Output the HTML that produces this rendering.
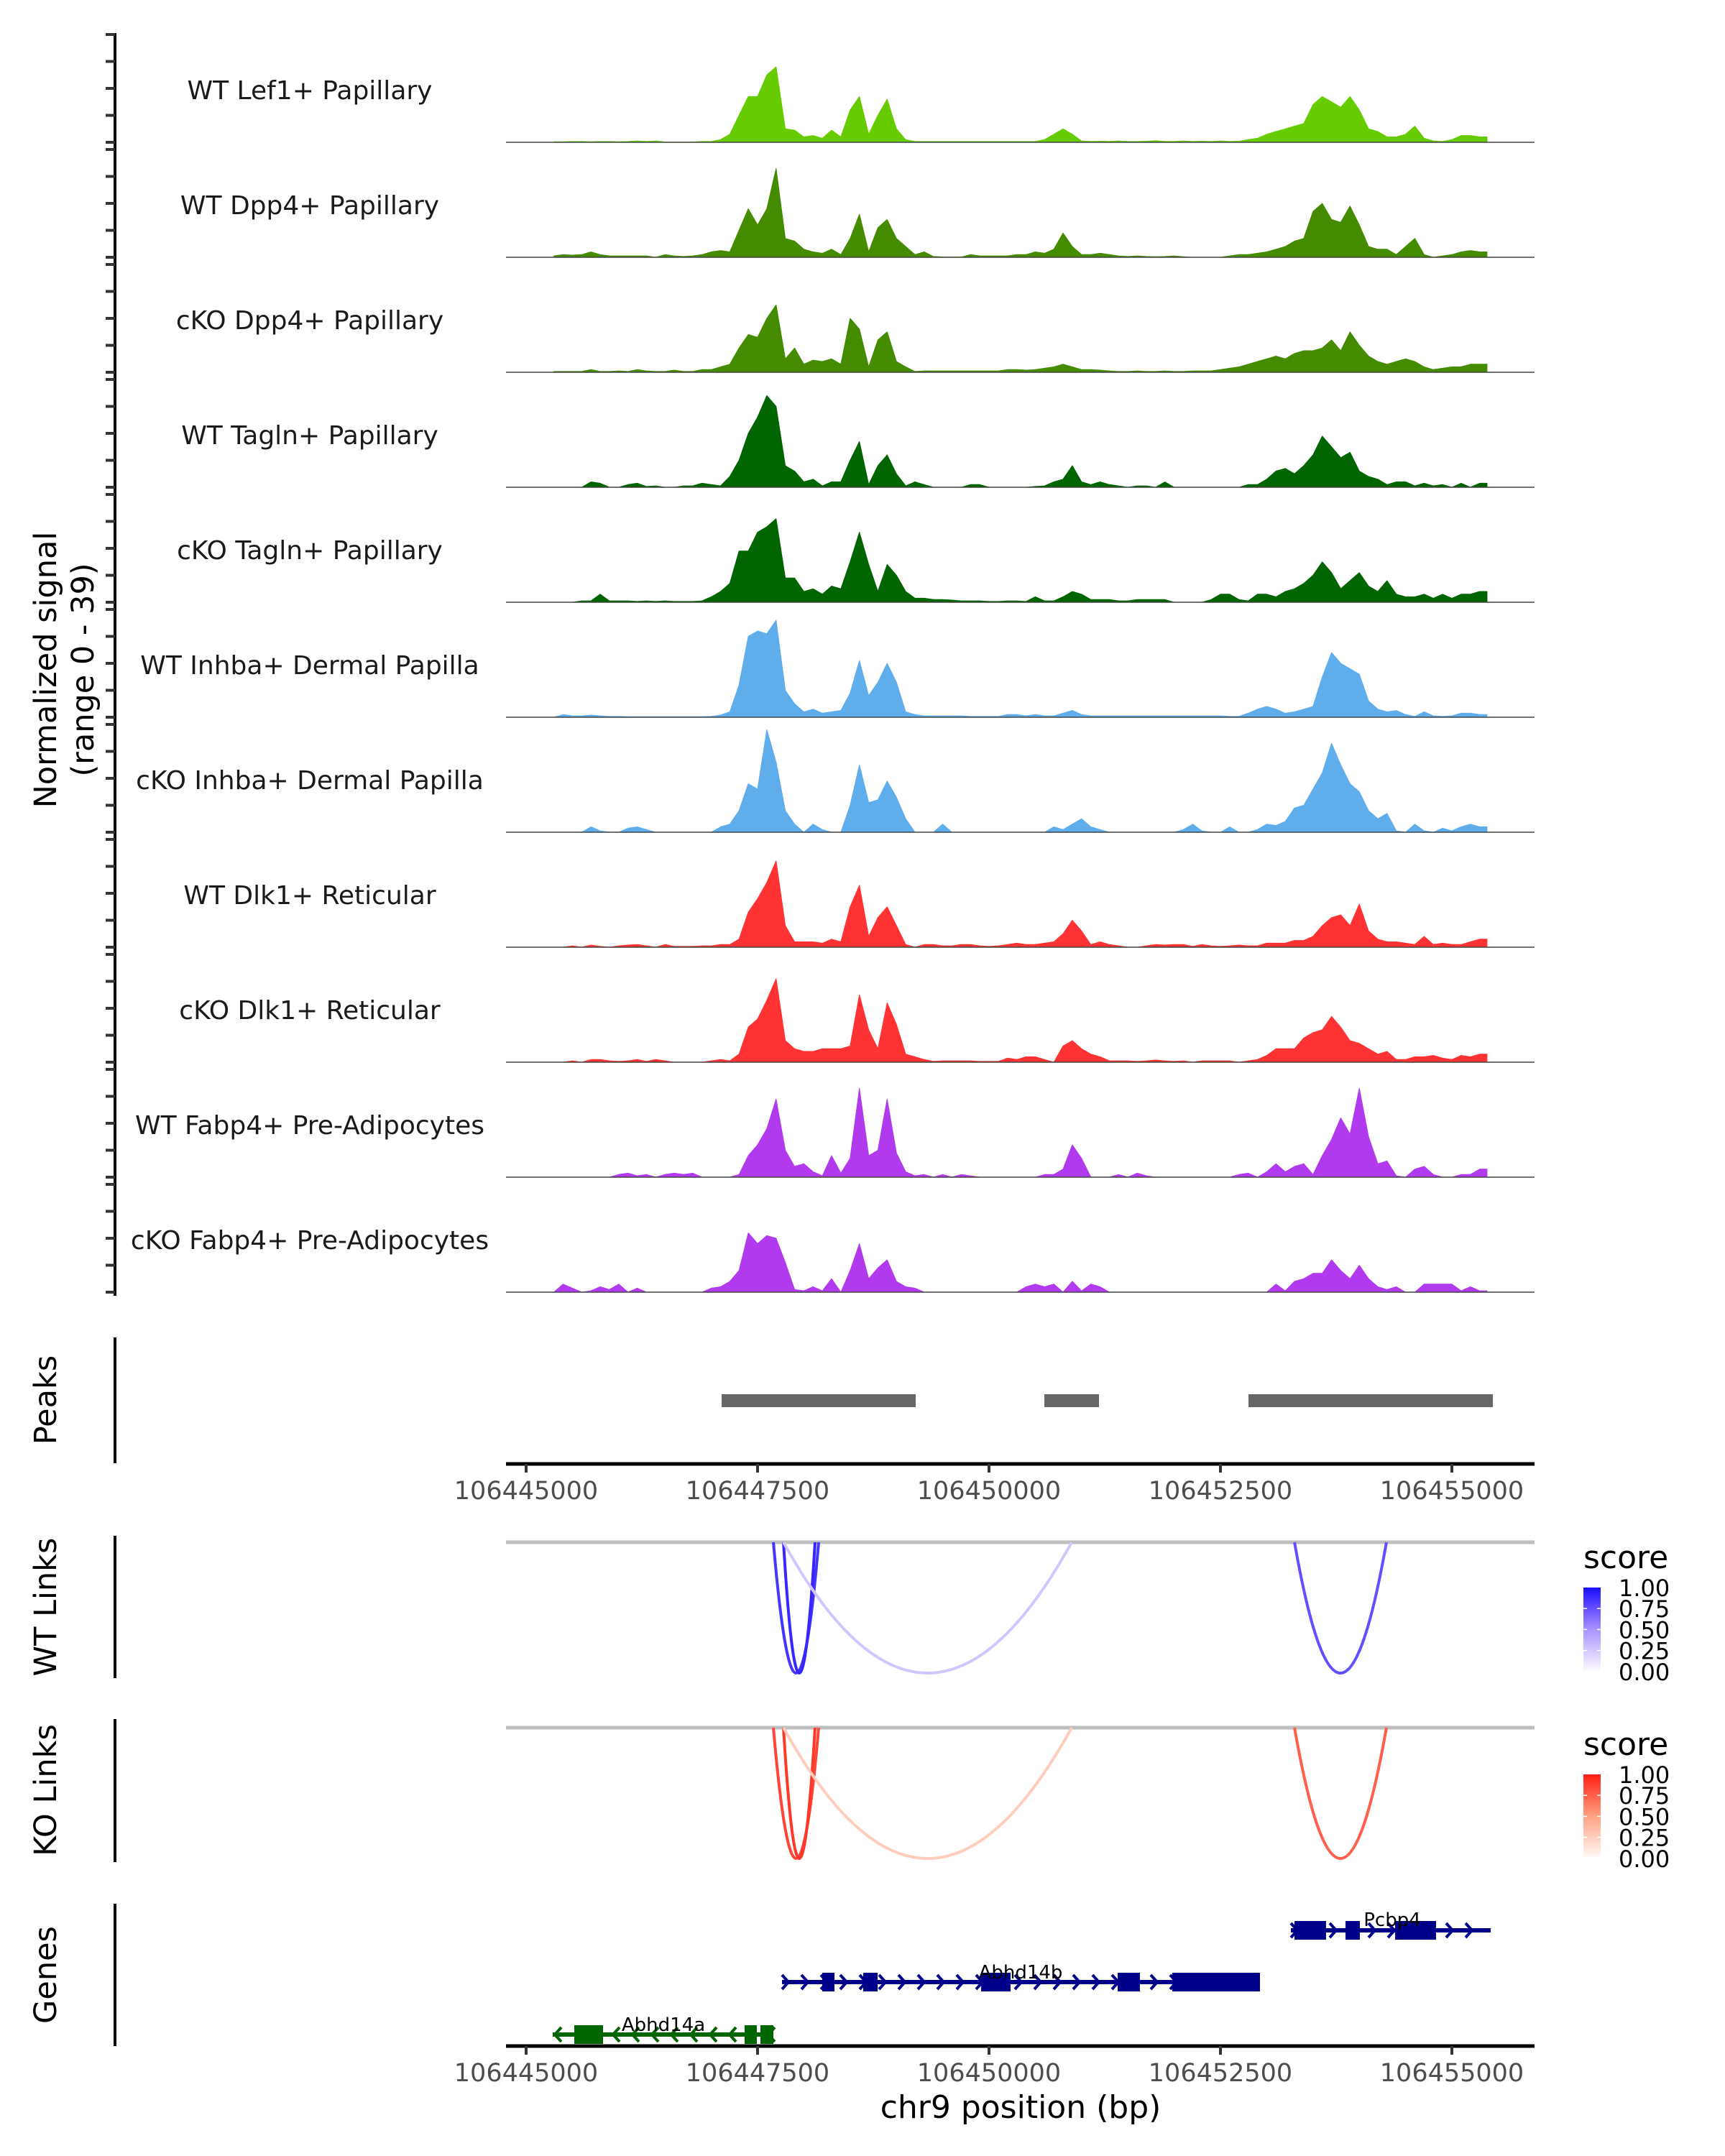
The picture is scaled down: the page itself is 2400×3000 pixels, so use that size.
<!DOCTYPE html>
<html><head><meta charset="utf-8">
<style>
html,body{margin:0;padding:0;background:#fff;}
svg{display:block;font-family:"DejaVu Sans","Liberation Sans",sans-serif;}
</style></head>
<body>
<svg id="chart" width="2400" height="3000" viewBox="0 0 2400 3000" xmlns="http://www.w3.org/2000/svg">
<rect width="2400" height="3000" fill="#fff"/>
</svg>
<script>
// ---------- data ----------
const trackNames = ["WT Lef1+ Papillary","WT Dpp4+ Papillary","cKO Dpp4+ Papillary","WT Tagln+ Papillary","cKO Tagln+ Papillary","WT Inhba+ Dermal Papilla","cKO Inhba+ Dermal Papilla","WT Dlk1+ Reticular","cKO Dlk1+ Reticular","WT Fabp4+ Pre-Adipocytes","cKO Fabp4+ Pre-Adipocytes"];
const trackColors = ["#66cc00","#448b00","#448b00","#006400","#006400","#60adec","#60adec","#ff3333","#ff3333","#b23aee","#b23aee"];
const binStart = 106445300;
const binSize = 100;
const sigLef1 = [0.2,0.2,0.3,0.3,0.2,0.3,0.3,0.2,0.3,0.5,0.3,0.5,0.1,0.1,0.1,0.1,0.3,0.3,1,3,10,17,17,25,28,5,4.5,2,2.5,1.5,4.5,2,12,17,3,10,16,5,1,0.3,0.3,0.3,0.3,0.3,0.3,0.3,0.3,0.3,0.3,0.3,0.3,0.3,0.3,1,3,5,3,0.5,0.3,0.4,0.3,0.5,0.3,0.3,0.4,0.6,0.3,0.3,0.5,0.3,0.4,0.3,0.5,0.3,0.4,1,1.5,3,4,5,6,7,14,17,15,13,17,12,5,4,2,2,3,6,1.5,0.5,0.3,1,2.5,2.5,2];
const sigDpp4WT = [0.5,1,0.8,1,2,1,0.5,0.5,0.5,0.5,0.5,0,1,0.5,0.3,0.5,1,2,2.5,2,10,18,12,18,33,7,6,3,2,1.5,3,1,7,16,2,11,14,7,4,1,2,0.3,0.1,0.1,0.1,1,0.5,0.5,0.5,0.5,1,1,2,1.5,3,9,4,1,1,1.5,1,0.5,0.3,0.5,0.3,0.2,0.3,0.5,0.2,0,0,0,0,0.5,1,1,1.5,2,3,4,6,7,17,20,14,13,19,12,4,3,3,1,4,7,1,0,0.5,1,2,2.5,2];
const sigDpp4KO = [0.3,0.3,0.3,0.3,1,0.3,0.3,0.5,0.3,1,0.5,0.3,0.3,0.8,0.3,0.3,1,1,2,3,9,14,13,20,25,5,9,3,4.5,4,5,3,20,16,2,12,15,4,2,0.3,0.5,0.5,0.5,0.5,0.5,0.5,0.5,0.5,0.5,1,1,0.8,1,1.5,2,3,2,1,1,0.8,0.5,0.3,0.3,0.5,0.3,0.3,0.5,0.3,0.3,0.5,0.5,0.5,1,1.5,2,3,4,5,6,5,7,8,8,9,12,8,15,10,6,4,3,4,5,4,2,1,1.5,2,2,3,3];
const sigTaglnWT = [0,0,0,0,2,1.5,0,0,1,1.5,0.3,0.5,0,0,0.5,0.5,1.5,1,0.5,4,10,20,26,34,30,8,6,2,3,0.5,2,2,10,17,1,8,12,5,0.5,2,1,0,0,0,0,1,1,0,0,0,0,0,0.3,0.5,2,3,8,2,1,2,1,0.5,0,0.5,0.5,0,2,0,0,0,0,0,0,0,0,1,1,3,6,7,5,8,12,19,15,11,13,6,4,3,1,2,2,0.5,1.5,0.5,1,0,1.5,0,1.5];
const sigTaglnKO = [0,0,0,0.5,0.5,3,0.5,0.5,0.5,0.3,0.5,0.3,0.5,0.3,0.3,0.3,0.5,2,4,7,19,19,26,28,31,9,9,4,5,3,6,5,15,26,14,4,14,10,4,1.5,1.5,1,1,0.8,0.5,0.5,0.5,0.3,0.3,0.5,0.5,0.3,2,0.5,0.5,2,4,3,1,1,1,0.5,0.5,1,1,1,1,0,0,0,0,1,3,3,1,0.5,3,3,2,4,5,7,10,15,11,5,8,11,6,4,8,3,2,2,3,1.5,3,1.5,3,3,4];
const sigInhbaWT = [0,1,0.5,0.5,0.8,0.5,0.3,0.3,0.2,0.2,0.2,0.2,0.2,0.2,0.2,0.2,0.2,0.3,0.8,2,12,30,32,31,36,10,5,2,3,1.5,2,2.5,9,21,8,13,20,13,2,1,0.5,0.5,0.5,0.5,0.5,0.3,0.3,0.3,0.3,1,1,0.5,1,0.5,0.5,1.5,2.5,1,0.5,0.5,0.5,0.5,0.5,0.5,0.5,0.5,0.5,0.5,0.5,0.5,0.5,0.5,0.5,0.3,0.3,1.5,3,4,3,1.5,2,3,4,15,24,20,18,16,6,3,2,2.5,1,0.3,2,0.5,0.3,0.5,1.5,1.5,1];
const sigInhbaKO = [0,0,0,0,2,0.5,0,0,1.5,2,1,0,0,0,0,0,0,0,2,3,8,18,16,38,26,8,3,0,3,1,0,0,10,25,11,12,19,13,5,0,0,0,3,0,0,0,0,0,0,0,0,0,0,0,2,1,3,5,2,1,0,0,0,0,0,0,0,0,1,3,0.5,0,0,2,0,0,1,3,2.5,4,9,10,16,22,33,25,18,15,8,5,7,0.5,0,3,0.5,0,1.5,0.5,2,3,2];
const sigDlk1WT = [0,0,0.5,0,0.8,0.3,0,0.5,0.8,1,0.5,0,1,0.3,0.3,0.3,0.5,0.5,1,1,3,13,18,24,32,8,2,2,2,1.5,3,2,15,23,4,11,15,8,1,0,1,1,0.5,0.5,1,1,0.5,0.3,0.5,1,1.5,1,1,1.5,2,5,10,6,1,2,1,0.5,0,0,0.5,1,0.8,1,1,0.3,1,0.5,0.3,0.5,0.8,0.5,0.5,1.5,1.5,1.5,2.5,2.5,4,8,11,12,8,16,6,3,2,2,1.5,1,4,1,1.5,1,1,2,3];
const sigDlk1KO = [0,0,0.5,0,1,1,0.5,0.3,0.5,1,0.3,1,0.5,0,0,0,0,0.5,1,0.5,3,13,16,23,31,8,5,4,4,5,5,5,6,25,12,5,22,14,3,2,1,0.3,0.5,0.5,0.5,0.5,0.3,0.3,0.3,1.5,1,2,2,1,0,6,8,5,3,2,0.5,0.5,0.5,0.3,0.5,0.8,0.5,0.3,0.5,0,0.5,0.5,0.5,0.5,0,0.5,1,2.5,5,5,5,9,11,12,17,13,8,7,5,3,4,1,1,2,2,2.5,1.5,1,2.5,2,3];
const sigFabp4WT = [0,0,0,0,0,0,0,1,1.5,0.5,1,0,1,1.5,1,1.5,0,0,0,0,1,8,12,18,29,10,4,5,2,0.5,8,1.5,7,33,8,10,29,9,2,0.5,1,0,1,0,1,0.5,0,0,0,0,0,0,0,1,1,3,12,7,0,0,0,1,0,1.5,0.5,0,0,0,0,0,0,0,0,0,1,1.5,0,2,5,2,4,5,1,8,14,22,16,33,15,5,6,0.5,0,3,4,1,0,0,1,1,3];
const sigFabp4KO = [0,3,1.5,0,0.5,2,1,3,0,1.5,0,0,0,0,0,0,0,1.5,2,4,8,22,18,21,20,11,1,0.5,2,0.5,5,0,8,18,5,9,12,4,2,1.5,0,0,0,0,0,0,0,0,0,0,0,2,3,2,3,0,4,0.5,3,2,0,0,0,0,0,0,0,0,0,0,0,0,0,0,0,0,0,0,3,0.5,4,5,7,7,12,8,5,10,5,2,1,2,0,0,3,3,3,3,0.5,2,0.5];
const signals = [sigLef1,sigDpp4WT,sigDpp4KO,sigTaglnWT,sigTaglnKO,sigInhbaWT,sigInhbaKO,sigDlk1WT,sigDlk1KO,sigFabp4WT,sigFabp4KO];

const xTicks = [106445000,106447500,106450000,106452500,106455000];
const peakStarts = [106447112,106450598,106452803];
const peakEnds   = [106449208,106451188,106455443];

const linkStarts = [106447671,106447780,106447780,106453300];
const linkEnds   = [106448160,106448121,106450893,106454293];
const wtScores   = [0.85,0.9,0.25,0.75];
const koScores   = [0.85,0.9,0.25,0.75];
const legendTicks = ["1.00","0.75","0.50","0.25","0.00"];

const geneNames  = ["Pcbp4","Abhd14b","Abhd14a"];
const geneStrand = [1,1,-1];
const geneStart  = [106453261,106447764,106445287];
const geneEnd    = [106455419,106452927,106447671];
const geneExonStarts = [[106453300,106453851,106454387],[106448199,106448641,106449915,106451390,106451980],[106445520,106447360,106447531]];
const geneExonEnds   = [[106453641,106454006,106454829],[106448331,106448797,106450233,106451630,106452927],[106445831,106447492,106447671]];
const geneColors = ["#00008b","#00008b","#006400"];

// ---------- helpers ----------
const NS="http://www.w3.org/2000/svg";
const svg=document.getElementById('chart');
function mk(tag,attrs,parent){const e=document.createElementNS(NS,tag);for(const k in attrs)e.setAttribute(k,attrs[k]);(parent||svg).appendChild(e);return e;}
const X0=704, X1=2135;
function xs(bp){return 732+(bp-106445000)*0.1288;}
const UNIT=3.75;
function baseY(k){return 198+160*k;}

// ---------- main y axis ----------
let g=mk('g',{});


mk('line',{x1:160,y1:46,x2:160,y2:1803,stroke:'#000','stroke-width':4},g);
for(let k=0;k<trackNames.length;k++){
  for(let j=0;j<=4;j++){
    const y=baseY(k)-37.5*j;
    const t=mk('line',{x1:147,y1:y,x2:160,y2:y,stroke:'#333','stroke-width':4},g);
    
    
  }
}
let yt=mk('text',{x:0,y:0,'font-size':43,'text-anchor':'middle',fill:'#000',transform:'translate(78,932) rotate(-90)'});


mk('tspan',{x:0,dy:0},yt).textContent='Normalized signal';
mk('tspan',{x:0,dy:52},yt).textContent='(range 0 - 39)';

// ---------- tracks ----------
for(let k=0;k<signals.length;k++){
  const b=baseY(k);
  const tg=mk('g',{});
  
  
  const vals=signals[k];
  let d='M'+xs(binStart).toFixed(1)+','+b;
  for(let i=0;i<vals.length;i++){
    const x=xs(binStart+binSize*i);
    d+=' L'+x.toFixed(1)+','+(b-vals[i]*UNIT).toFixed(1);
  }
  const xe=xs(binStart+binSize*(vals.length-1)+80);
  d+=' L'+xe.toFixed(1)+','+(b-vals[vals.length-1]*UNIT).toFixed(1)+' L'+xe.toFixed(1)+','+b+' Z';
  const area=mk('path',{d:d,fill:trackColors[k],stroke:trackColors[k],'stroke-width':1,'stroke-linejoin':'round'},tg);
  
  
  const bl=mk('line',{x1:X0,y1:b,x2:X1,y2:b,stroke:'#444','stroke-width':1.5},tg);
  
  
  const lab=mk('text',{x:431,y:b-73+13,'font-size':36,'text-anchor':'middle',fill:'#1a1a1a'},tg);
  lab.textContent=trackNames[k];
  
  
}

// ---------- side panel titles & axes ----------
const panels=[["Peaks",1861,2036,1948,"peaks"],["WT Links",2137,2335,2236,"wt-links"],["KO Links",2392,2591,2491,"ko-links"],["Genes",2649,2847,2748,"genes"]];
for(const p of panels){
  const l=mk('line',{x1:160,y1:p[1],x2:160,y2:p[2],stroke:'#000','stroke-width':4});
  
  
  const t=mk('text',{x:0,y:0,'font-size':43,'text-anchor':'middle',fill:'#000',transform:'translate(78,'+p[3]+') rotate(-90)'});
  t.textContent=p[0];
  
  
}

// ---------- peaks ----------
for(let i=0;i<peakStarts.length;i++){
  const r=mk('rect',{x:xs(peakStarts[i]),y:1940,width:xs(peakEnds[i])-xs(peakStarts[i]),height:18,fill:'#666'});
  
  
}

// ---------- x axes ----------
function xAxis(y,name){
  const ag=mk('g',{});
  
  
  mk('line',{x1:X0,y1:y,x2:X1,y2:y,stroke:'#000','stroke-width':5},ag);
  for(const t of xTicks){
    const x=xs(t);
    mk('line',{x1:x,y1:y,x2:x,y2:y+12,stroke:'#333','stroke-width':4},ag);
    const tx=mk('text',{x:x,y:y+49,'font-size':35,'text-anchor':'middle',fill:'#4d4d4d'},ag);
    tx.textContent=String(t);
    
    
  }
}
xAxis(2037,'peaks-x-axis');
xAxis(2847,'genes-x-axis');
const xt=mk('text',{x:1420,y:2947,'font-size':44,'text-anchor':'middle',fill:'#000'});
xt.textContent='chr9 position (bp)';



// ---------- links ----------
function lerp(a,b,t){return Math.round(a+(b-a)*t);}
function wtColor(s){const lo=[252,250,255],mid=[170,145,255],hi=[26,13,255];
  let c=s<0.5?lo.map((v,i)=>lerp(v,mid[i],s/0.5)):mid.map((v,i)=>lerp(v,hi[i],(s-0.5)/0.5));return 'rgb('+c.join(',')+')';}
function koColor(s){const lo=[255,250,248],mid=[255,160,130],hi=[255,30,20];
  let c=s<0.5?lo.map((v,i)=>lerp(v,mid[i],s/0.5)):mid.map((v,i)=>lerp(v,hi[i],(s-0.5)/0.5));return 'rgb('+c.join(',')+')';}
function linkPanel(top,scores,colorFn,name){
  const lg=mk('g',{});
  
  
  mk('line',{x1:X0,y1:top,x2:X1,y2:top,stroke:'#bebebe','stroke-width':5},lg);
  const depth=182;
  for(let i=0;i<linkStarts.length;i++){
    const a=xs(linkStarts[i]),b=xs(linkEnds[i]);
    const p=mk('path',{d:'M'+a+','+top+' Q'+((a+b)/2)+','+(top+depth*2)+' '+b+','+top,fill:'none',stroke:colorFn(scores[i]),'stroke-width':4},lg);
    
    
  }
}
linkPanel(2146,wtScores,wtColor,'wt-links-panel');
linkPanel(2404,koScores,koColor,'ko-links-panel');

function legend(top,colorFn,id,name){
  const lg=mk('g',{});
  
  
  const t=mk('text',{x:2203,y:top-27,'font-size':44,fill:'#000'},lg);
  t.textContent='score';
  const defs=mk('defs',{},lg);
  const gr=mk('linearGradient',{id:id,x1:0,y1:0,x2:0,y2:1},defs);
  for(let i=0;i<=10;i++){mk('stop',{offset:i/10,'stop-color':colorFn(1-i/10)},gr);}
  mk('rect',{x:2203,y:top,width:24,height:116,fill:'url(#'+id+')'},lg);
  for(let i=0;i<legendTicks.length;i++){
    const y=top+29.2*i;
    if(i>0&&i<4){mk('line',{x1:2203,y1:y,x2:2208,y2:y,stroke:'#fff','stroke-width':1.5},lg);mk('line',{x1:2222,y1:y,x2:2227,y2:y,stroke:'#fff','stroke-width':1.5},lg);}
    const tx=mk('text',{x:2252,y:y+12,'font-size':32,fill:'#000'},lg);
    tx.textContent=legendTicks[i];
  }
}
legend(2209,wtColor,'gwt','wt-score-legend');
legend(2469,koColor,'gko','ko-score-legend');

// ---------- genes ----------
const rowY=[2686,2758,2831];
const labY=[2680,2753,2826];
for(let gi=0;gi<geneNames.length;gi++){
  const gg=mk('g',{});
  
  
  const y=rowY[gi],col=geneColors[gi];
  const a=xs(geneStart[gi]),b=xs(geneEnd[gi]);
  mk('line',{x1:a,y1:y,x2:b,y2:y,stroke:col,'stroke-width':6},gg);
  const s=geneStrand[gi];
  for(let x=a+6;x<=b-2;x+=27){
    const p=s>0?(x-6)+','+(y-10)+' '+(x+3)+','+y+' '+(x-6)+','+(y+10):(x+6)+','+(y-10)+' '+(x-3)+','+y+' '+(x+6)+','+(y+10);
    mk('polyline',{points:p,fill:'none',stroke:col,'stroke-width':4},gg);
  }
  for(let e=0;e<geneExonStarts[gi].length;e++){
    const ex=mk('rect',{x:xs(geneExonStarts[gi][e]),y:y-13,width:xs(geneExonEnds[gi][e])-xs(geneExonStarts[gi][e]),height:26,fill:col},gg);
    
    
  }
  const lx=gi===0?1937:(gi===1?1420:923);
  const t=mk('text',{x:lx,y:labY[gi],'font-size':26,'text-anchor':'middle',fill:'#000'},gg);
  t.textContent=geneNames[gi];
  
  
}
</script>
</body></html>
